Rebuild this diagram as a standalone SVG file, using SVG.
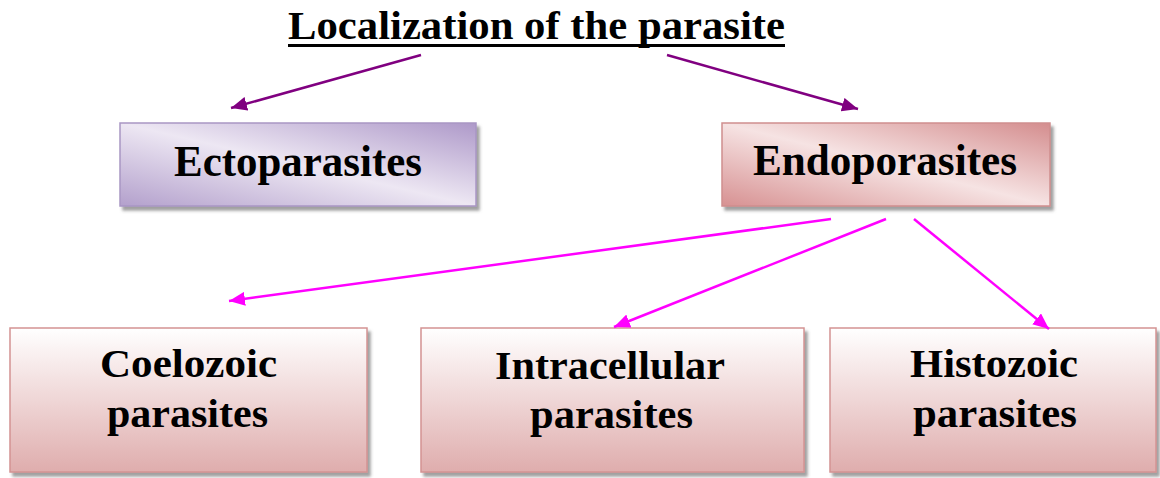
<svg xmlns="http://www.w3.org/2000/svg" width="1160" height="478" viewBox="0 0 1160 478">
<style>
.t{font-family:"Liberation Serif","Times New Roman",serif;font-weight:bold;fill:#000;text-anchor:start}
.top{font-size:44px}
.bot{font-size:39px}
.box{stroke-width:1.5}
.pl{stroke:#800080;stroke-width:2.5;fill:none}
.mg{stroke:#ff00ff;stroke-width:2.5;fill:none}
</style>
<defs>
<linearGradient id="gEcto" x1="0" y1="1" x2="1" y2="0">
<stop offset="0" stop-color="#b3a0cc"/>
<stop offset="0.5" stop-color="#ede7f3"/>
<stop offset="1" stop-color="#ae99c9"/>
</linearGradient>
<linearGradient id="gEndo" x1="0" y1="1" x2="1" y2="0">
<stop offset="0" stop-color="#d79192"/>
<stop offset="0.5" stop-color="#f6e3e3"/>
<stop offset="1" stop-color="#d48d8e"/>
</linearGradient>
<linearGradient id="gBot" x1="0" y1="0" x2="0" y2="1">
<stop offset="0" stop-color="#ffffff"/>
<stop offset="1" stop-color="#dfadad"/>
</linearGradient>
<filter id="sh" x="-5%" y="-10%" width="115%" height="130%">
<feDropShadow dx="3" dy="4" stdDeviation="1.5" flood-color="#606060" flood-opacity="0.6"/>
</filter>
<marker id="aP" viewBox="0 0 16 14" refX="16" refY="7" markerWidth="16" markerHeight="14" markerUnits="userSpaceOnUse" orient="auto">
<path d="M0,0 L16,7 L0,14 Z" fill="#800080"/>
</marker>
<marker id="aM" viewBox="0 0 16 14" refX="16" refY="7" markerWidth="16" markerHeight="14" markerUnits="userSpaceOnUse" orient="auto">
<path d="M0,0 L16,7 L0,14 Z" fill="#ff00ff"/>
</marker>
</defs>
<rect width="1160" height="478" fill="#ffffff"/>

<g id="title">
<text class="t" x="288" y="39" font-size="41" textLength="497" lengthAdjust="spacingAndGlyphs">Localization of the parasite</text>
<rect x="288" y="44" width="497" height="3" fill="#000"/>
</g>

<g id="ecto">
<rect class="box" x="120" y="123" width="356" height="83" fill="url(#gEcto)" stroke="#a996c4" filter="url(#sh)"/>
<text class="t top" x="174" y="176" textLength="248" lengthAdjust="spacingAndGlyphs">Ectoparasites</text>
</g>

<g id="endo">
<rect class="box" x="722" y="123" width="328" height="83" fill="url(#gEndo)" stroke="#cf8e8e" filter="url(#sh)"/>
<text class="t top" x="753" y="175" textLength="264" lengthAdjust="spacingAndGlyphs">Endoporasites</text>
</g>

<g id="coelozoic">
<rect class="box" x="10" y="328" width="357" height="144" fill="url(#gBot)" stroke="#d39393" filter="url(#sh)"/>
<text class="t bot" x="100" y="377" textLength="177" lengthAdjust="spacingAndGlyphs">Coelozoic</text>
<text class="t bot" x="107" y="427" textLength="161" lengthAdjust="spacingAndGlyphs">parasites</text>
</g>

<g id="intracellular">
<rect class="box" x="421" y="328" width="383" height="144" fill="url(#gBot)" stroke="#d39393" filter="url(#sh)"/>
<text class="t bot" x="495" y="379" textLength="230" lengthAdjust="spacingAndGlyphs">Intracellular</text>
<text class="t bot" x="530" y="428" textLength="163" lengthAdjust="spacingAndGlyphs">parasites</text>
</g>

<g id="histozoic">
<rect class="box" x="830" y="328" width="326" height="144" fill="url(#gBot)" stroke="#d39393" filter="url(#sh)"/>
<text class="t bot" x="910" y="377" textLength="168" lengthAdjust="spacingAndGlyphs">Histozoic</text>
<text class="t bot" x="913" y="427" textLength="164" lengthAdjust="spacingAndGlyphs">parasites</text>
</g>

<g id="connectors">
<line class="pl" x1="421" y1="55" x2="231" y2="108" marker-end="url(#aP)"/>
<line class="pl" x1="667" y1="55" x2="858" y2="109" marker-end="url(#aP)"/>
<line class="mg" x1="831" y1="219" x2="229" y2="301" marker-end="url(#aM)"/>
<line class="mg" x1="886" y1="219" x2="614" y2="327" marker-end="url(#aM)"/>
<line class="mg" x1="914" y1="219" x2="1049" y2="329" marker-end="url(#aM)"/>
</g>
</svg>
